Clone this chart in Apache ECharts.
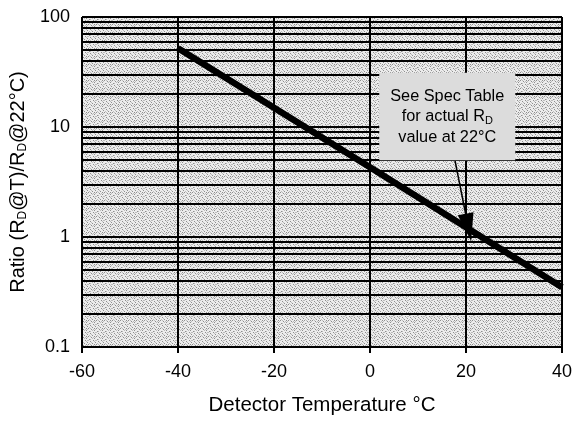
<!DOCTYPE html>
<html>
<head>
<meta charset="utf-8">
<script src="https://cdn.jsdelivr.net/npm/echarts@6/dist/echarts.min.js"></script>
<style>
  html, body { margin: 0; padding: 0; background: #fff; }
  #chart { width: 575px; height: 421px; }
</style>
</head>
<body>
<div id="chart"></div>
<script>
  // ratio curve (temperature °C, ratio)
  var temps = [-40, 0, 40];
  var ratios = [52, 4.3, 0.35];
  // horizontal rules between the decades
  var minorTicks = [0.2, 0.3, 0.4, 0.5, 0.6, 0.7, 0.8, 0.9,
                    2, 3, 4, 5, 6, 7, 8, 9,
                    20, 30, 40, 50, 60, 70, 80, 90];
  var xTicks = [-60, -40, -20, 0, 20, 40];
  var yTicks = [0.1, 1, 10, 100];
  // annotation: arrow from text box to the 22°C point
  var arrowFrom = [17.4, 5.8];
  var arrowTo = [20.5, 1.22];
  var notePos = [16.1, 12.45];

  var font = 'Liberation Sans, Arial, Helvetica, sans-serif';

  // stippled grey paper texture (fixed dot layout)
  var tex = document.createElement('canvas');
  tex.width = 8; tex.height = 8;
  var c = tex.getContext('2d');
  c.fillStyle = '#ececec';
  c.fillRect(0, 0, 8, 8);
  var dark = [[0,0],[3,1],[6,2],[1,3],[5,4],[2,5],[7,6],[4,7],[6,0]];
  var mid = [[2,0],[7,1],[4,2],[0,4],[3,6],[6,5],[1,7],[5,1],[2,3],[7,4]];
  c.fillStyle = '#8e8e8e';
  dark.forEach(function (p) { c.fillRect(p[0], p[1], 1, 1); });
  c.fillStyle = '#bcbcbc';
  mid.forEach(function (p) { c.fillRect(p[0], p[1], 1, 1); });
  var paper = { image: tex, repeat: 'repeat' };

  var lineData = [];
  for (var i = 0; i < temps.length; i++) {
    lineData.push([temps[i], ratios[i]]);
  }
  var minorLines = minorTicks.map(function (v) { return { yAxis: v }; });

  var chart = echarts.init(document.getElementById('chart'));
  var option = {
    backgroundColor: '#fff',
    animation: false,
    grid: {
      left: 82, right: 11, top: 17, bottom: 69,
      show: true,
      borderWidth: 0,
      backgroundColor: paper
    },
    xAxis: {
      type: 'value',
      min: xTicks[0],
      max: xTicks[xTicks.length - 1],
      interval: 20,
      name: 'Detector Temperature °C',
      nameLocation: 'middle',
      nameGap: 48,
      nameTextStyle: { color: '#000', fontSize: 20.5, fontFamily: font },
      axisLine: { show: true, onZero: false, lineStyle: { color: '#000', width: 2 } },
      axisTick: { show: true, inside: false, length: 6, lineStyle: { color: '#000', width: 2 } },
      axisLabel: { color: '#000', fontSize: 18, fontFamily: font, margin: 16 },
      splitLine: { show: true, lineStyle: { color: '#000', width: 2 } }
    },
    yAxis: {
      type: 'log',
      logBase: 10,
      min: yTicks[0],
      max: yTicks[yTicks.length - 1],
      name: 'Ratio (R{s|D}@T)/R{s|D}@22°C)',
      nameLocation: 'middle',
      nameGap: 51,
      nameTextStyle: {
        color: '#000', fontSize: 20, fontFamily: font,
        rich: { s: { fontSize: 12, fontFamily: font, color: '#000', verticalAlign: 'bottom', padding: [9, 0, 0, 0] } }
      },
      axisLine: { show: true, lineStyle: { color: '#000', width: 2 } },
      axisTick: { show: true, length: 6, lineStyle: { color: '#000', width: 2 } },
      axisLabel: { color: '#000', fontSize: 18, fontFamily: font, margin: 12 },
      splitLine: { show: true, lineStyle: { color: '#000', width: 2 } },
      minorTick: { show: false },
      minorSplitLine: { show: false }
    },
    series: [
      {
        type: 'line',
        data: [],
        silent: true,
        z: 1,
        markLine: {
          silent: true,
          symbol: ['none', 'none'],
          label: { show: false },
          lineStyle: { color: '#000', width: 2, type: 'solid' },
          data: minorLines
        }
      },
      {
        type: 'line',
        data: [],
        silent: true,
        z: 5,
        markPoint: {
          symbol: 'rect',
          symbolSize: 1,
          itemStyle: { color: 'transparent' },
          label: {
            show: true,
            position: 'inside',
            formatter: 'See Spec Table\nfor actual R{s|D}\nvalue at 22°C',
            color: '#000',
            fontSize: 16.3,
            fontFamily: font,
            lineHeight: 20.5,
            align: 'center',
            backgroundColor: '#dcdcdc',
            borderRadius: 0,
            padding: [13, 11, 13, 11],
            rich: { s: { fontSize: 11, fontFamily: font, color: '#000', verticalAlign: 'bottom', lineHeight: 20.5, padding: [6, 0, 0, 0] } }
          },
          data: [{ coord: notePos }]
        }
      },
      {
        type: 'line',
        data: lineData,
        symbol: 'none',
        silent: true,
        z: 6,
        lineStyle: { color: '#000', width: 6.5 },
        markLine: {
          silent: true,
          symbol: ['none', 'triangle'],
          symbolSize: [16, 28],
          label: { show: false },
          lineStyle: { color: '#000', width: 1.5, type: 'solid' },
          data: [[{ coord: arrowFrom }, { coord: arrowTo }]]
        }
      }
    ]
  };
  chart.setOption(option);
</script>
</body>
</html>
